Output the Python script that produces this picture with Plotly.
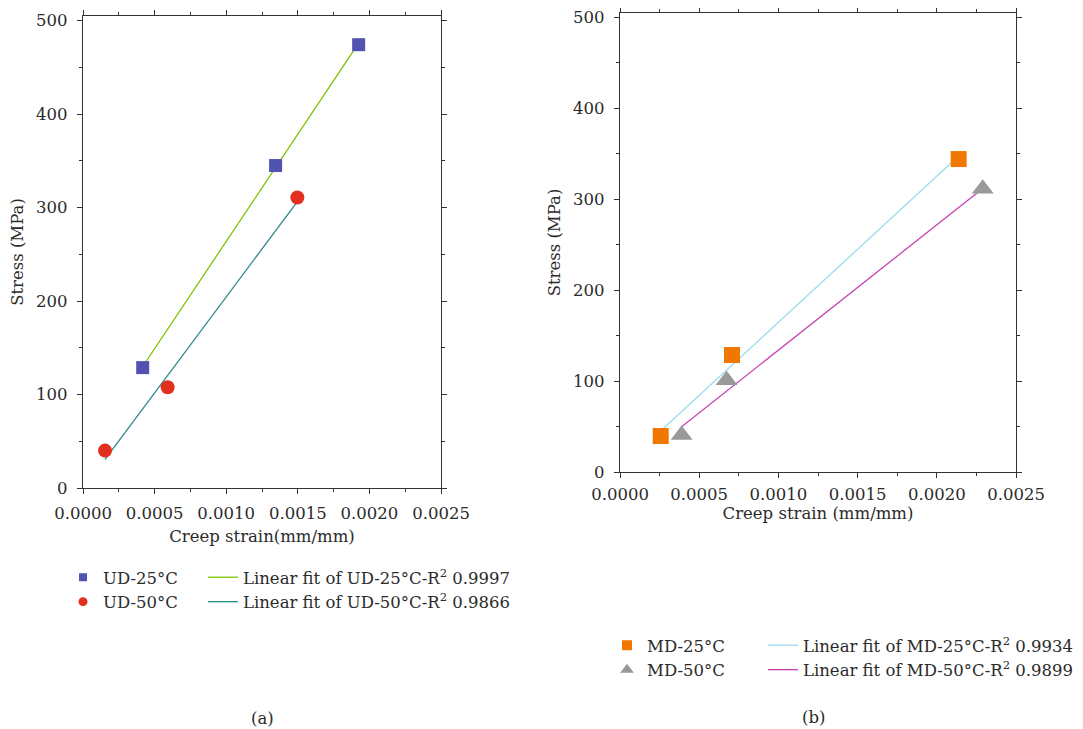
import plotly.graph_objects as go

# ---- data ----
ud25_x = [0.000417, 0.001345, 0.001925]
ud25_y = [128.8, 345.0, 474.3]
ud50_x = [0.000154, 0.000591, 0.001497]
ud50_y = [40.0, 107.8, 310.8]
ud25_fit_x = [0.000417, 0.001925]
ud25_fit_y = [130.0, 476.0]
ud50_fit_x = [0.000154, 0.001497]
ud50_fit_y = [30.7, 306.5]

md25_x = [0.000257, 0.000707, 0.002138]
md25_y = [39.6, 128.7, 344.3]
md50_x = [0.000389, 0.000673, 0.002290]
md50_y = [40.7, 101.0, 311.7]
md25_fit_x = [0.000263, 0.002138]
md25_fit_y = [46.2, 347.6]
md50_fit_x = [0.000389, 0.002290]
md50_fit_y = [49.8, 312.0]

names = {
    "ud25": "UD-25°C", "ud50": "UD-50°C",
    "ud25fit": "Linear fit of UD-25°C-R<sup>2</sup> 0.9997",
    "ud50fit": "Linear fit of UD-50°C-R<sup>2</sup> 0.9866",
    "md25": "MD-25°C", "md50": "MD-50°C",
    "md25fit": "Linear fit of MD-25°C-R<sup>2</sup> 0.9934",
    "md50fit": "Linear fit of MD-50°C-R<sup>2</sup> 0.9899",
}

FONT = "DejaVu Serif"
FS = 16.5
TXT = "#2b2b2b"

fig = go.Figure()


def add_markers(x, y, name, symbol, size, legsize, color, xa, ya, leg):
    fig.add_trace(go.Scatter(x=x, y=y, mode="markers", name=name, showlegend=False,
                             marker=dict(symbol=symbol, size=size, color=color),
                             xaxis=xa, yaxis=ya))
    # legend-only entry with the small legend symbol
    fig.add_trace(go.Scatter(x=[None], y=[None], mode="markers", name=name, legend=leg,
                             marker=dict(symbol=symbol, size=legsize, color=color),
                             xaxis=xa, yaxis=ya, hoverinfo="skip"))


def add_line(x, y, name, color, xa, ya, leg):
    fig.add_trace(go.Scatter(x=x, y=y, mode="lines", name=name, legend=leg,
                             line=dict(color=color, width=1.3), xaxis=xa, yaxis=ya))


# left panel
add_line(ud25_fit_x, ud25_fit_y, names["ud25fit"], "#7cc400", "x", "y", "legend2")
add_line(ud50_fit_x, ud50_fit_y, names["ud50fit"], "#2a8a8c", "x", "y", "legend2")
add_markers(ud25_x, ud25_y, names["ud25"], "square", 13, 8, "#5252b0", "x", "y", "legend")
add_markers(ud50_x, ud50_y, names["ud50"], "circle", 14, 9, "#e2301f", "x", "y", "legend")

# right panel
add_line(md25_fit_x, md25_fit_y, names["md25fit"], "#9adcec", "x2", "y2", "legend4")
add_line(md50_fit_x, md50_fit_y, names["md50fit"], "#c642b4", "x2", "y2", "legend4")
add_markers(md25_x, md25_y, names["md25"], "square", 16, 10, "#f07800", "x2", "y2", "legend3")
add_markers(md50_x, md50_y, names["md50"], "triangle-up", 19, 12, "#999999", "x2", "y2", "legend3")

W, H = 1083, 729
OFF = 8  # default page body margin


def px(v):
    return (v - OFF) / W


def py(v):
    return 1 - (v - OFF) / H


tfont = dict(family=FONT, size=FS, color=TXT)
xcommon = dict(range=[0, 0.0025], dtick=0.0005, tickformat=".4f", showline=True, linecolor="#333",
               linewidth=1.2, mirror="ticks", ticks="outside", ticklen=5, tickcolor="#333",
               minor=dict(dtick=0.00025, ticks="outside", ticklen=3, tickcolor="#333"),
               showgrid=False, zeroline=False, tickfont=tfont, title_font=tfont, automargin=False)
ycommon = dict(range=[0, 505], dtick=100, showline=True, linecolor="#333", linewidth=1.2,
               mirror="ticks", ticks="outside", ticklen=5, tickcolor="#333",
               minor=dict(dtick=50, ticks="outside", ticklen=3, tickcolor="#333"),
               showgrid=False, zeroline=False, tickfont=tfont, title_font=tfont, automargin=False,
               ticklabelstandoff=6)

legcommon = dict(font=tfont, bgcolor="rgba(0,0,0,0)", orientation="v", xanchor="left",
                 yanchor="top", tracegroupgap=0, itemwidth=30)

fig.update_layout(
    width=W, height=H, margin=dict(l=0, r=0, t=0, b=0, autoexpand=False),
    paper_bgcolor="white", plot_bgcolor="white",
    font=dict(family=FONT, color=TXT, size=FS),
    xaxis=dict(domain=[px(83), px(441)], anchor="y", ticklabelstandoff=5,
               title=dict(text="Creep strain(mm/mm)", standoff=8), **xcommon),
    yaxis=dict(domain=[py(488), py(16)], anchor="x",
               title=dict(text="Stress (MPa)", standoff=8), **ycommon),
    xaxis2=dict(domain=[px(620), px(1016)], anchor="y2", ticklabelstandoff=2,
                title=dict(text="Creep strain (mm/mm)", standoff=0), **xcommon),
    yaxis2=dict(domain=[py(472), py(13)], anchor="x2",
                title=dict(text="Stress (MPa)", standoff=8), **ycommon),
    legend=dict(x=px(63), y=py(560), **legcommon),
    legend2=dict(x=px(203), y=py(560), **legcommon),
    legend3=dict(x=px(607), y=py(628), **legcommon),
    legend4=dict(x=px(763), y=py(628), **legcommon),
    annotations=[
        dict(text="(a)", x=px(262), y=py(718), xref="paper", yref="paper", showarrow=False,
             xanchor="center", yanchor="middle", font=tfont),
        dict(text="(b)", x=px(813), y=py(717), xref="paper", yref="paper", showarrow=False,
             xanchor="center", yanchor="middle", font=tfont),
    ],
)

fig.write_html("out.html")
